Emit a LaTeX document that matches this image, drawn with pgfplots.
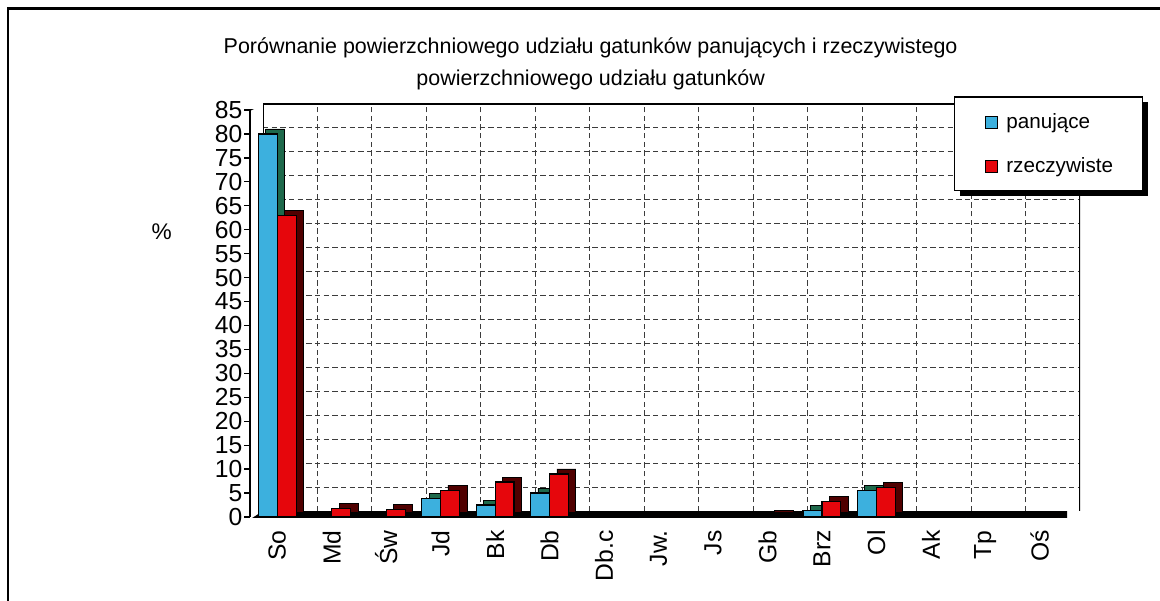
\documentclass[border=0pt]{standalone}
\usepackage{fontspec}
\setmainfont{Liberation Sans}
\usepackage{pgfplots}
\usepackage{pgfplotstable}
\pgfplotsset{compat=1.18}
\definecolor{cblue}{RGB}{60,176,222}
\definecolor{cred}{RGB}{230,6,12}
\definecolor{cblueside}{RGB}{30,105,75}
\definecolor{credside}{RGB}{80,0,0}
\definecolor{gridc}{RGB}{60,60,60}
\pgfplotstableread{
x pan rz
0 80 63
1 0 1.8
2 0 1.5
3 3.8 5.6
4 2.5 7.3
5 5.0 9.0
6 0 0
7 0 0
8 0 0
9 0 0.3
10 1.3 3.2
11 5.6 6.2
12 0 0
13 0 0
14 0 0
}\data
\begin{document}
\begin{tikzpicture}
\useasboundingbox (0,0) rectangle (870pt,450pt);
% outer frame (top and left visible)
\draw[line width=2.2pt] (6pt,-2pt) -- (6pt,443.5pt) -- (872pt,443.5pt);
% title
\node[align=center, font=\fontsize{16.1}{24}\selectfont] at (443pt,402pt)
  {Porównanie powierzchniowego udziału gatunków panujących i rzeczywistego\\ powierzchniowego udziału gatunków};
% back wall
\begin{axis}[at={(197.25pt,66.75pt)}, anchor=south west,
  width=612.75pt, height=305.25pt, scale only axis,
  xmin=-0.5, xmax=14.5, ymin=0, ymax=85,
  xtick={0.5,1.5,...,13.5}, ytick={5,10,...,80},
  xticklabels={}, yticklabels={}, major tick length=0pt,
  grid=major, major grid style={gridc, line width=0.7pt, dash pattern=on 4pt off 2.5pt},
  axis line style={draw=none}]
\draw[line width=1.2pt] (axis cs:-0.5,0) -- (axis cs:-0.5,85) -- (axis cs:14.5,85);
\draw[line width=2.2pt] (axis cs:14.5,85) -- (axis cs:14.5,0);
\end{axis}
% legend box with shadow
\fill[black] (719.7pt,303.3pt) rectangle (860.7pt,373.3pt);
\filldraw[fill=white, draw=black, line width=0.9pt] (715.7pt,307.3pt) rectangle (856.7pt,377.3pt);
% front
\begin{axis}[at={(187.5pt,62.25pt)}, anchor=south west,
  width=612.75pt, height=305.25pt, scale only axis,
  xmin=-0.5, xmax=14.5, ymin=0, ymax=85,
  axis x line*=bottom, axis y line*=left,
  ytick={0,5,...,85}, xtick={0,...,14},
  xticklabels={So,Md,Św,Jd,Bk,Db,Db.c,Jw.,Js,Gb,Brz,Ol,Ak,Tp,Oś},
  x tick style={draw=none}, y tick style={black, line width=1pt},
  tick align=outside, major tick length=4.5pt,
  ticklabel style={font=\fontsize{18.5}{18.5}\selectfont},
  /pgf/number format/assume math mode=true,
  xticklabel style={rotate=90, anchor=east},
  xticklabel shift=2pt,
  yticklabel style={inner sep=1pt},
  x axis line style={draw=none},
  y axis line style={line width=2pt},
  ylabel={\%}, ylabel style={rotate=-90, at={(axis description cs:-0.09,0.70)}, font=\fontsize{17}{17}\selectfont},
  ybar=0pt, bar width=14.2pt,
  legend style={at={(axis description cs:0.8996,0.9983)}, anchor=north west,
    draw=none, fill=none, inner sep=0pt, row sep=16.5pt, column sep=4pt,
    font=\fontsize{15.5}{16}\selectfont,
    legend cell align=left},
  legend image code/.code={\draw[#1, draw=black, line width=0.8pt] (0pt,-4.5pt) rectangle (9pt,4.5pt);},
]
% floor slab
\fill[black] ([yshift=-1.8pt]axis cs:-0.5,0) -- ([yshift=-1.8pt]axis cs:14.5,0)
  -- ([shift={(9.75pt,4.5pt)}]axis cs:14.5,0) -- ([shift={(9.75pt,4.5pt)}]axis cs:-0.5,0) -- cycle;
\draw[line width=1.2pt] (axis cs:-0.5,85) -- ++(9.75pt,4.5pt);
% shadows (3D depth)
\addplot[forget plot, fill=cblueside, draw=black, line width=0.6pt, bar shift=-7.1pt+5.5pt, yshift=3.75pt,
  restrict y to domain=0.01:100] table[x=x, y=pan] {\data};
\addplot[fill=cblue, draw=black, line width=0.9pt, bar shift=-7.1pt] table[x=x, y=pan] {\data};
\addplot[forget plot, fill=credside, draw=black, line width=0.6pt, bar shift=7.1pt+5.5pt, yshift=3.75pt,
  restrict y to domain=0.01:100] table[x=x, y=rz] {\data};
\addplot[fill=cred, draw=black, line width=0.9pt, bar shift=7.1pt] table[x=x, y=rz] {\data};
\legend{panujące, rzeczywiste}
\end{axis}
\end{tikzpicture}
\end{document}
